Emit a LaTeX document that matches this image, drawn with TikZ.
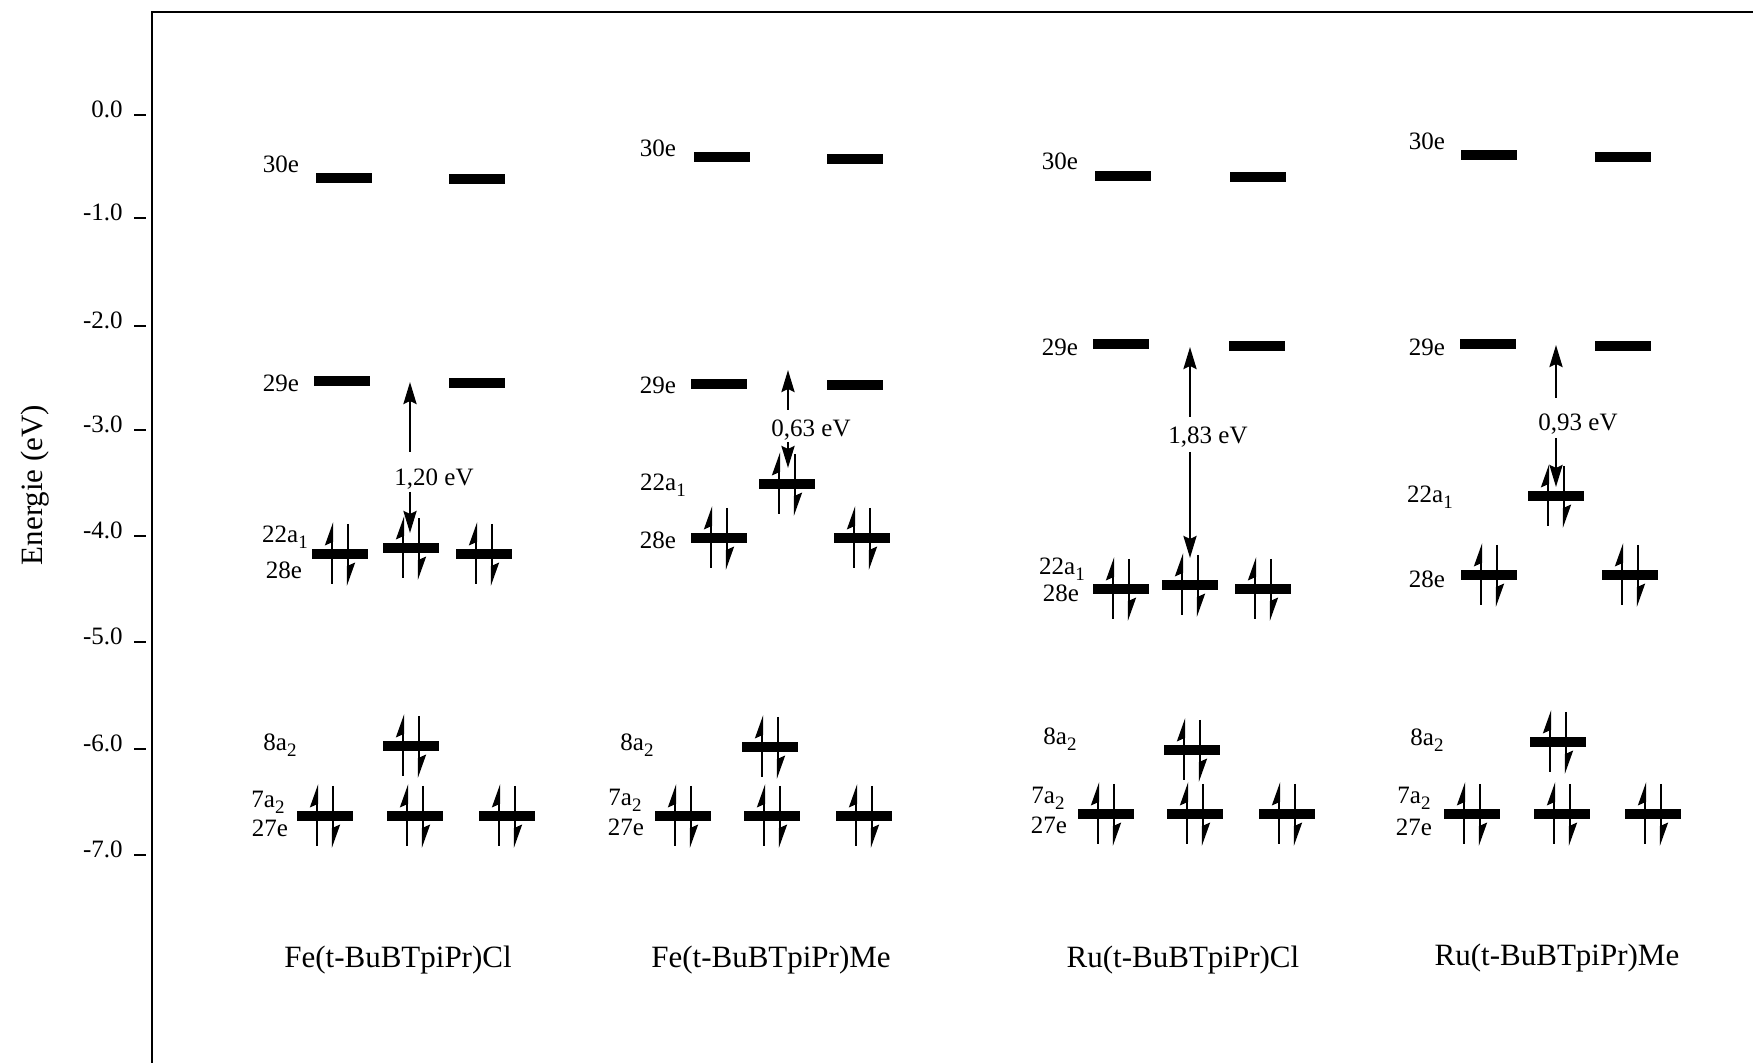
\documentclass[tikz,border=0pt]{standalone}
\usepackage{fontspec}
\setmainfont{Liberation Serif}
\usetikzlibrary{arrows.meta}
\newcommand\lvlfont{\fontsize{12.5}{14}\selectfont}
\newcommand\cmpfont{\fontsize{15.5}{18}\selectfont}
\newcommand\subs[1]{\raisebox{-0.45ex}{\fontsize{9.5}{10}\selectfont #1}}
\tikzset{
  lvl/.style={font=\lvlfont, inner sep=0pt, anchor=base},
  gaplbl/.style={font=\lvlfont, inner sep=0pt, anchor=base},
  cmp/.style={font=\cmpfont, inner sep=0pt, anchor=base},
  ticklbl/.style={font=\lvlfont, inner sep=0pt, anchor=base east},
  tickline/.style={line width=1.25pt},
  frameline/.style={line width=1.3pt, line join=miter},
  gaparrow/.style={line width=1.4pt, -{Stealth[length=11pt,width=6.5pt,inset=1.5pt]}},
  eup/.style={line width=1.15pt, -{Stealth[left,length=10pt,width=7pt,inset=1.5pt]}},
  orbital/.style={fill=black},
}
% orbital bar centred at (x,y), width 56 px, thickness 10 px
\newcommand\orb[2]{\fill[orbital] (#1-28,#2-5) rectangle (#1+28,#2+5);}
% electron pair on a bar
\newcommand\epair[2]{%
  \draw[eup] (#1-8,#2+30) -- (#1-8,#2-32);
  \draw[eup] (#1+8,#2-30) -- (#1+8,#2+32);}
\begin{document}
\begin{tikzpicture}[x=0.5pt,y=-0.5pt]
\useasboundingbox (0,0) rectangle (1753,1063);
% frame
\draw[frameline] (152,1063) -- (152,12) -- (1753,12);
% axis
\node[rotate=90, font=\cmpfont, inner sep=0pt] (ylabel) at (35,485) {Energie (eV)};
\foreach \v/\t in {0.0/115,-1.0/218,-2.0/326,-3.0/430,-4.0/536,-5.0/642,-6.0/749,-7.0/855}{
  \draw[tickline] (134,\t) -- (146,\t);
  \node[ticklbl] at (123,\t+3) {\v};
}
% ================= Panel 1 : Fe(t-BuBTpiPr)Cl
\node[lvl] (p1l30) at (281,173) {30e};
\orb{344}{178} \orb{477}{179}
\node[lvl] (p1l29) at (281,392) {29e};
\orb{342}{381} \orb{477}{383}
\node[lvl] (p1l22) at (285,543) {22a\subs{1}};
\node[lvl] (p1l28) at (284,579) {28e};
\orb{340}{554} \orb{411}{548} \orb{484}{554}
\epair{340}{554} \epair{411}{548} \epair{484}{554}
\node[lvl] (p1l8) at (280,751) {8a\subs{2}};
\orb{411}{746} \epair{411}{746}
\node[lvl] (p1l7) at (268,808) {7a\subs{2}};
\node[lvl] (p1l27) at (270,837) {27e};
\orb{325}{816} \orb{415}{816} \orb{507}{816}
\epair{325}{816} \epair{415}{816} \epair{507}{816}
\node[gaplbl] (g1) at (434,486) {1,20 eV};
\coordinate (g1a) at (410,452); \coordinate (g1t) at (410,382);
\coordinate (g1b) at (410,492); \coordinate (g1d) at (410,533);
\draw[gaparrow] (g1a) -- (g1t);
\draw[gaparrow] (g1b) -- (g1d);
\node[cmp] (c1) at (398,968) {Fe(t-BuBTpiPr)Cl};
% ================= Panel 2 : Fe(t-BuBTpiPr)Me
\node[lvl] (p2l30) at (658,157) {30e};
\orb{722}{157} \orb{855}{159}
\node[lvl] (p2l29) at (658,394) {29e};
\orb{719}{384} \orb{855}{385}
\node[lvl] (p2l22) at (663,491) {22a\subs{1}};
\orb{787}{484} \epair{787}{484}
\node[lvl] (p2l28) at (658,549) {28e};
\orb{719}{538} \orb{862}{538}
\epair{719}{538} \epair{862}{538}
\node[lvl] (p2l8) at (637,751) {8a\subs{2}};
\orb{770}{747} \epair{770}{747}
\node[lvl] (p2l7) at (625,806) {7a\subs{2}};
\node[lvl] (p2l27) at (626,836) {27e};
\orb{683}{816} \orb{772}{816} \orb{864}{816}
\epair{683}{816} \epair{772}{816} \epair{864}{816}
\node[gaplbl] (g2) at (811,437) {0,63 eV};
\coordinate (g2a) at (788,410); \coordinate (g2t) at (788,370);
\coordinate (g2b) at (788,442); \coordinate (g2d) at (788,468);
\draw[gaparrow] (g2a) -- (g2t);
\draw[gaparrow] (g2b) -- (g2d);
\node[cmp] (c2) at (771,968) {Fe(t-BuBTpiPr)Me};
% ================= Panel 3 : Ru(t-BuBTpiPr)Cl
\node[lvl] (p3l30) at (1060,170) {30e};
\orb{1123}{176} \orb{1258}{177}
\node[lvl] (p3l29) at (1060,356) {29e};
\orb{1121}{344} \orb{1257}{346}
\node[lvl] (p3l22) at (1062,575) {22a\subs{1}};
\node[lvl] (p3l28) at (1061,602) {28e};
\orb{1121}{589} \orb{1190}{585} \orb{1263}{589}
\epair{1121}{589} \epair{1190}{585} \epair{1263}{589}
\node[lvl] (p3l8) at (1060,745) {8a\subs{2}};
\orb{1192}{750} \epair{1192}{750}
\node[lvl] (p3l7) at (1048,804) {7a\subs{2}};
\node[lvl] (p3l27) at (1049,834) {27e};
\orb{1106}{814} \orb{1195}{814} \orb{1287}{814}
\epair{1106}{814} \epair{1195}{814} \epair{1287}{814}
\node[gaplbl] (g3) at (1208,444) {1,83 eV};
\coordinate (g3a) at (1190,417); \coordinate (g3t) at (1190,347);
\coordinate (g3b) at (1190,452); \coordinate (g3d) at (1190,558);
\draw[gaparrow] (g3a) -- (g3t);
\draw[gaparrow] (g3b) -- (g3d);
\node[cmp] (c3) at (1183,968) {Ru(t-BuBTpiPr)Cl};
% ================= Panel 4 : Ru(t-BuBTpiPr)Me
\node[lvl] (p4l30) at (1427,150) {30e};
\orb{1489}{155} \orb{1623}{157}
\node[lvl] (p4l29) at (1427,356) {29e};
\orb{1488}{344} \orb{1623}{346}
\node[lvl] (p4l22) at (1430,503) {22a\subs{1}};
\orb{1556}{496} \epair{1556}{496}
\node[lvl] (p4l28) at (1427,588) {28e};
\orb{1489}{575} \orb{1630}{575}
\epair{1489}{575} \epair{1630}{575}
\node[lvl] (p4l8) at (1427,746) {8a\subs{2}};
\orb{1558}{742} \epair{1558}{742}
\node[lvl] (p4l7) at (1414,804) {7a\subs{2}};
\node[lvl] (p4l27) at (1414,836) {27e};
\orb{1472}{814} \orb{1562}{814} \orb{1653}{814}
\epair{1472}{814} \epair{1562}{814} \epair{1653}{814}
\node[gaplbl] (g4) at (1578,431) {0,93 eV};
\coordinate (g4a) at (1556,398); \coordinate (g4t) at (1556,345);
\coordinate (g4b) at (1556,438); \coordinate (g4d) at (1556,487);
\draw[gaparrow] (g4a) -- (g4t);
\draw[gaparrow] (g4b) -- (g4d);
\node[cmp] (c4) at (1557,966) {Ru(t-BuBTpiPr)Me};
\end{tikzpicture}
\end{document}
